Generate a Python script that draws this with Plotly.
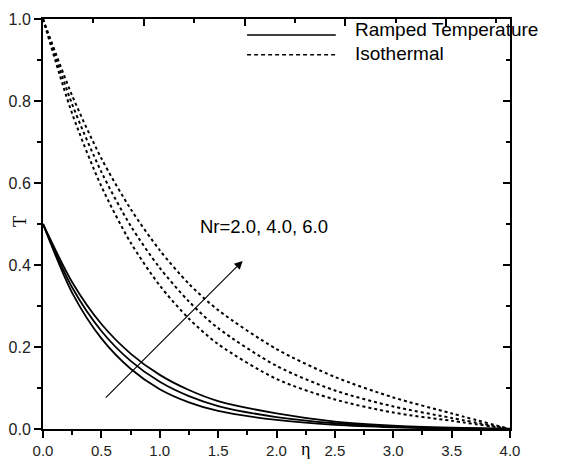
import plotly.graph_objects as go

# ---- data ----
eta = [0.0, 0.25, 0.5, 0.75, 1.0, 1.25, 1.5, 2.0, 2.5, 3.0, 3.5, 4.0]

ramped_nr2 = [0.5, 0.332, 0.221, 0.147, 0.097, 0.065, 0.044, 0.022, 0.010, 0.004, 0.001, 0.0]
ramped_nr4 = [0.5, 0.345, 0.239, 0.166, 0.115, 0.080, 0.056, 0.029, 0.014, 0.006, 0.002, 0.0]
ramped_nr6 = [0.5, 0.358, 0.256, 0.184, 0.132, 0.095, 0.068, 0.038, 0.018, 0.008, 0.003, 0.0]

iso_nr2 = [1.0, 0.769, 0.592, 0.455, 0.350, 0.269, 0.207, 0.122, 0.072, 0.040, 0.020, 0.0]
iso_nr4 = [1.0, 0.792, 0.627, 0.496, 0.393, 0.311, 0.246, 0.154, 0.094, 0.055, 0.027, 0.0]
iso_nr6 = [1.0, 0.813, 0.660, 0.537, 0.436, 0.354, 0.290, 0.195, 0.127, 0.077, 0.038, 0.0]

legend_labels = ["Ramped Temperature", "Isothermal"]
arrow_label = "Nr=2.0, 4.0, 6.0"
arrow_tail = (0.525, 0.073)
arrow_head = (1.71, 0.41)
label_pos = (1.89, 0.493)

x_ticks = [0.0, 0.5, 1.0, 1.5, 2.0, 2.5, 3.0, 3.5, 4.0]
x_ticktext = ["0.0", "0.5", "1.0", "1.5", "2.0", "2.5", "3.0", "3.5", "4.0"]
y_ticks = [0.0, 0.2, 0.4, 0.6, 0.8, 1.0]
y_ticktext = ["0.0", "0.2", "0.4", "0.6", "0.8", "1.0"]

SANS = "Arial, Liberation Sans, sans-serif"
SERIF = "Times New Roman, Liberation Serif, DejaVu Serif, serif"

fig = go.Figure()

for ys in (ramped_nr2, ramped_nr4, ramped_nr6):
    fig.add_trace(go.Scatter(x=eta, y=ys, mode="lines", line=dict(color="black", width=1.8, shape="spline", smoothing=0.8),
                             showlegend=False, hoverinfo="skip"))
for ys in (iso_nr2, iso_nr4, iso_nr6):
    fig.add_trace(go.Scatter(x=eta, y=ys, mode="lines", line=dict(color="black", width=2, dash="3px,3px", shape="spline", smoothing=0.8),
                             showlegend=False, hoverinfo="skip"))

# invisible trace to activate the mirror (top/right) axes
fig.add_trace(go.Scatter(x=[None], y=[None], xaxis="x2", yaxis="y2", showlegend=False, hoverinfo="skip"))

axis_common = dict(showline=True, linecolor="black", linewidth=2, showgrid=False, zeroline=False, automargin=False)

fig.update_layout(
    width=561, height=461,
    margin=dict(l=35, r=59, t=11, b=40),
    paper_bgcolor="white", plot_bgcolor="white",
    showlegend=False,
    xaxis=dict(range=[0, 4], tickvals=x_ticks, ticktext=x_ticktext, ticks="outside", ticklen=7, tickwidth=1.5,
               tickcolor="black", tickfont=dict(family=SANS, size=15, color="#222"),
               minor=dict(dtick=0.25, ticks="outside", ticklen=4, tickwidth=1.5, tickcolor="black"),
               **axis_common),
    yaxis=dict(range=[0, 1], tickvals=y_ticks, ticktext=y_ticktext, ticks="outside", ticklen=7, tickwidth=1.5,
               tickcolor="black", tickfont=dict(family=SANS, size=16, color="#222"),
               minor=dict(dtick=0.1, ticks="outside", ticklen=4, tickwidth=1.5, tickcolor="black"),
               **axis_common),
    xaxis2=dict(range=[0, 9.27], overlaying="x", side="top", anchor="y2", dtick=2, tick0=0, ticks="inside", ticklen=7,
                tickwidth=1.5, tickcolor="black", showticklabels=False,
                minor=dict(dtick=1, ticks="inside", ticklen=4, tickwidth=1.5, tickcolor="black"),
                **axis_common),
    yaxis2=dict(range=[0, 1], overlaying="y", side="right", anchor="x2", dtick=0.2, ticks="inside", ticklen=7,
                tickwidth=1.5, tickcolor="black", showticklabels=False,
                minor=dict(dtick=0.1, ticks="inside", ticklen=4, tickwidth=1.5, tickcolor="black"),
                **axis_common),
)

# arrow and its label
fig.add_annotation(x=arrow_head[0], y=arrow_head[1], ax=arrow_tail[0], ay=arrow_tail[1],
                   xref="x", yref="y", axref="x", ayref="y", text="", showarrow=True,
                   arrowhead=2, arrowsize=1.5, arrowwidth=1.1, arrowcolor="black")
fig.add_annotation(x=label_pos[0], y=label_pos[1], xref="x", yref="y", text=arrow_label, showarrow=False,
                   xanchor="center", yanchor="middle",
                   font=dict(family=SANS, size=18.5, color="black"))

# axis titles
fig.add_annotation(x=0, y=0.505, xref="paper", yref="y", xshift=-23, text="T", textangle=-90, showarrow=False,
                   xanchor="center", yanchor="middle", borderpad=0,
                   font=dict(family=SERIF, size=18, color="black"))
fig.add_annotation(x=2.25, y=0, xref="x", yref="paper", yshift=-20, text="η", showarrow=False,
                   xanchor="center", yanchor="middle", borderpad=0,
                   font=dict(family=SERIF, size=18, color="black"))

# manual legend
fig.add_shape(type="line", xref="paper", yref="paper", x0=0.437, x1=0.627, y0=0.961, y1=0.961,
              line=dict(color="black", width=1.5))
fig.add_shape(type="line", xref="paper", yref="paper", x0=0.437, x1=0.627, y0=0.913, y1=0.913,
              line=dict(color="black", width=1.5, dash="4px,3px"))
fig.add_annotation(x=0.664, y=0.9755, xref="paper", yref="paper", xanchor="left", yanchor="middle",
                   text=legend_labels[0], showarrow=False, font=dict(family=SANS, size=19, color="black"))
fig.add_annotation(x=0.664, y=0.916, xref="paper", yref="paper", xanchor="left", yanchor="middle",
                   text=legend_labels[1], showarrow=False, font=dict(family=SANS, size=19, color="black"))

fig.write_html("out.html")
